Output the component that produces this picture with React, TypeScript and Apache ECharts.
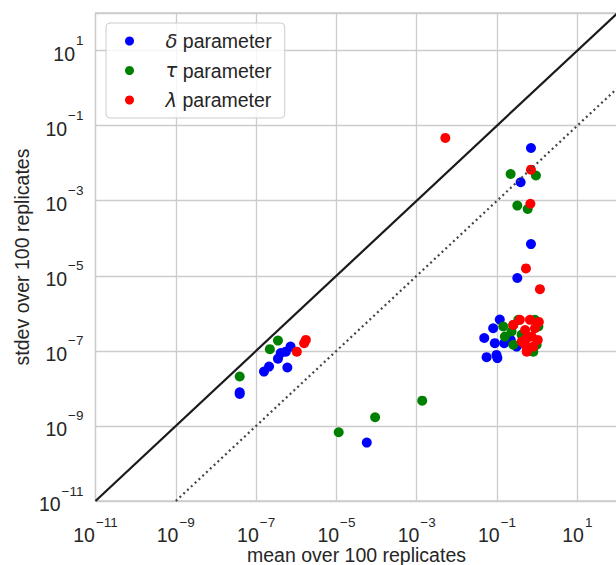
import React, { useEffect, useRef } from "react";
import * as echarts from "echarts";

// [mean, stdev] pairs
const deltaPoints: [number, number][] = [
  [3.9e-8, 7.1e-9], [3.9e-8, 7.9e-9], [1.57e-7, 2.8e-8], [2.1e-7, 3.8e-8],
  [3.5e-7, 6.2e-8], [4.1e-7, 8.7e-8], [5.5e-7, 9.5e-8], [7.2e-7, 1.3e-7],
  [6.0e-7, 3.6e-8], [5.7e-5, 3.6e-10], [0.70, 0.0254], [0.387, 3.1e-3],
  [0.70, 7.0e-5], [0.32, 8.7e-6], [0.117, 6.8e-7], [0.080, 4.0e-7],
  [0.048, 2.2e-7], [0.088, 1.6e-7], [0.151, 1.6e-7], [0.055, 6.8e-8],
  [0.097, 7.8e-8], [0.102, 6.4e-8], [0.307, 1.3e-7], [0.22, 1.95e-7],
];
const tauPoints: [number, number][] = [
  [3.9e-8, 2.07e-8], [2.2e-7, 1.11e-7], [3.5e-7, 1.88e-7], [1.14e-5, 6.8e-10],
  [9.2e-5, 1.7e-9], [1.37e-3, 4.7e-9], [0.218, 5.15e-3], [0.93, 4.7e-3],
  [0.32, 7.4e-4], [0.58, 6.0e-4], [0.143, 4.45e-7], [0.254, 4.9e-7],
  [0.157, 2.4e-7], [0.254, 1.45e-7], [0.339, 6.7e-7], [0.88, 6.7e-7],
  [1.07, 4.45e-7], [0.97, 1.45e-7], [0.80, 9.5e-8], [0.23, 3.3e-7],
  [0.41, 2.7e-7], [0.55, 1.07e-7],
];
const lambdaPoints: [number, number][] = [
  [1.03e-6, 9.5e-8], [1.57e-6, 1.6e-7], [1.73e-6, 1.96e-7], [5.16e-3, 4.7e-2],
  [0.70, 6.7e-3], [0.676, 8.3e-4], [0.525, 1.57e-5], [1.17, 4.4e-6],
  [0.254, 4.9e-7], [0.37, 6.7e-7], [0.66, 6.7e-7], [0.88, 4.0e-7],
  [0.50, 3.6e-7], [0.73, 2.4e-7], [0.55, 2.2e-7], [0.50, 1.45e-7],
  [0.80, 1.3e-7], [0.55, 9.5e-8], [0.41, 1.77e-7], [1.03, 1.96e-7],
  [1.10, 5.9e-7],
];
const identityLine: [number, number][] = [[1e-11, 1e-11], [1e2, 1e2]];
const hundredthLine: [number, number][] = [[1e-9, 1e-11], [1e2, 1]];

const seriesNames = ["δ parameter", "τ parameter", "λ parameter"];
const seriesColors = ["#0000ff", "#008000", "#ff0000"];
const axisMin = 1e-11;
const axisMax = 1e2;
const tickStep = 2;
const xTitle = "mean over 100 replicates";
const yTitle = "stdev over 100 replicates";

const TEXT = "#262626";
const FONT = "'Liberation Sans', Arial, sans-serif";

const tickFormatter = (v: number) => {
  const e = Math.round(Math.log10(v));
  if (e >= 2) return "";
  return `{b|10}{s|${e < 0 ? "\u2212" : ""}${Math.abs(e)}}`;
};

const tickRich = {
  b: { fontSize: 19.5, lineHeight: 30, verticalAlign: "bottom", color: TEXT, fontFamily: FONT, padding: [0, 1, 0, 0] },
  s: { fontSize: 13.5, lineHeight: 10, verticalAlign: "top", color: TEXT, fontFamily: FONT },
};

export default function App() {
  const ref = useRef<HTMLDivElement>(null);
  useEffect(() => {
    if (!ref.current) return;
    const chart = echarts.init(ref.current, undefined, { renderer: "svg" });
    const axisCommon = {
      type: "log",
      logBase: 10,
      min: axisMin,
      max: axisMax,
      interval: tickStep,
      axisLine: { show: false },
      axisTick: { show: false },
      splitLine: { show: true, lineStyle: { color: "#cccccc", width: 1.3 } },
      nameLocation: "middle",
      nameMoveOverlap: false,
      nameTextStyle: { fontSize: 19.5, color: TEXT, fontFamily: FONT },
    };
    chart.setOption({
      animation: false,
      backgroundColor: "#ffffff",
      textStyle: { fontFamily: FONT },
      grid: {
        left: 95.5,
        top: 13,
        right: -1.5,
        bottom: 64,
        show: true,
        borderColor: "#cccccc",
        borderWidth: 1.3,
        containLabel: false,
        outerBoundsMode: "none",
      },
      legend: {
        orient: "vertical",
        left: 106,
        top: 23,
        data: seriesNames,
        icon: "circle",
        itemWidth: 16,
        itemHeight: 9,
        itemGap: 7.5,
        padding: [7, 13, 7, 19],
        backgroundColor: "rgba(255,255,255,0.8)",
        borderColor: "#cccccc",
        borderWidth: 1,
        borderRadius: 4,
        selectedMode: false,
        formatter: (name: string) => name.replace(/^(\S+) /, "{sp| }{i|$1} "),
        textStyle: {
          fontSize: 19.5,
          lineHeight: 22,
          color: TEXT,
          fontFamily: FONT,
          rich: {
            sp: { width: 23, fontSize: 19.5, lineHeight: 22 },
            i: { fontStyle: "italic", fontFamily: "'DejaVu Sans', sans-serif", fontSize: 19.5, lineHeight: 22, color: TEXT },
          },
        },
      },
      xAxis: {
        ...axisCommon,
        name: xTitle,
        nameGap: 44,
        axisLabel: { margin: 14, formatter: tickFormatter, rich: tickRich, showMaxLabel: false },
      },
      yAxis: {
        ...axisCommon,
        name: yTitle,
        nameGap: 64,
        axisLabel: { margin: 12, formatter: tickFormatter, rich: tickRich, padding: [0, 0, 4, 0], showMaxLabel: false },
      },
      series: [
        {
          type: "line",
          data: identityLine,
          symbol: "none",
          silent: true,
          lineStyle: { color: "#1a1a1a", width: 2.2 },
        },
        {
          type: "line",
          data: hundredthLine,
          symbol: "none",
          silent: true,
          lineStyle: { color: "#444444", width: 2.2, type: [2, 3.2] },
        },
        ...[deltaPoints, tauPoints, lambdaPoints].map((pts, i) => ({
          type: "scatter",
          name: seriesNames[i],
          data: pts,
          symbol: "circle",
          symbolSize: 10,
          itemStyle: { color: seriesColors[i], opacity: 1 },
          silent: true,
        })),
      ],
    });
    return () => chart.dispose();
  }, []);
  return (
    <div
      ref={ref}
      style={{ position: "fixed", left: 0, top: 0, width: 616, height: 565 }}
    />
  );
}
